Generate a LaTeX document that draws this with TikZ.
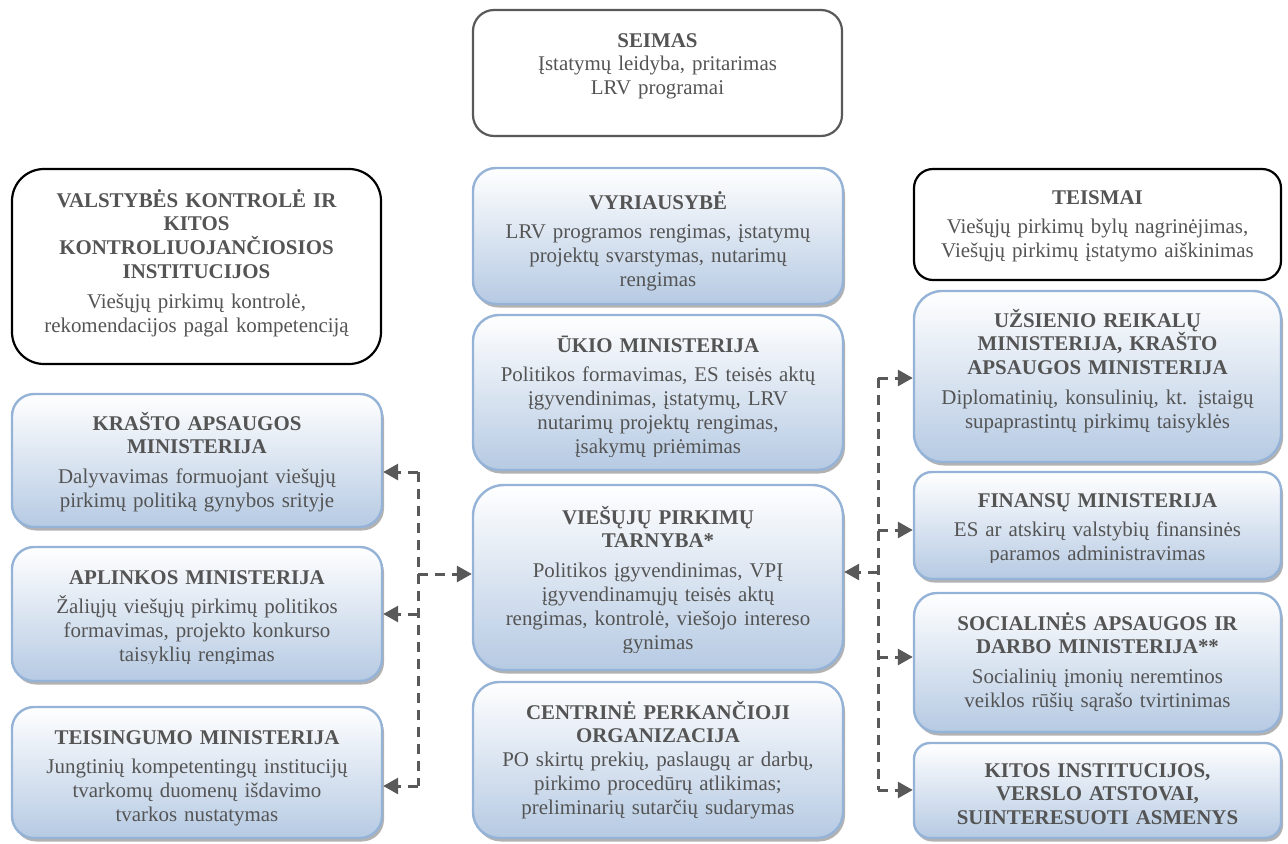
\documentclass[tikz,border=0pt]{standalone}
\usepackage{fontspec}
\setmainfont{Liberation Serif}
\usetikzlibrary{shadows,arrows.meta,calc}
\definecolor{txtgray}{RGB}{84,84,84}
\definecolor{bborder}{RGB}{149,179,215}
\definecolor{bbottom}{RGB}{182,202,227}
\definecolor{darkline}{RGB}{89,89,89}
\tikzset{
 bluebox/.style={draw=bborder, line width=2.4bp, top color=white, bottom color=bbottom,
   drop shadow={shadow xshift=2bp, shadow yshift=-3.5bp, fill=black!60, opacity=.5}, inner sep=0pt},
 plainbox/.style={draw=black, line width=2.2bp, fill=white, inner sep=0pt},
 txt/.style={text=txtgray, font=\fontsize{21}{24}\selectfont, align=center, inner sep=0pt, anchor=base, text width=364bp},
 conn/.style={draw=darkline, line width=3bp, dash pattern=on 10bp off 7bp, -{Triangle[length=15bp,width=16bp]}},
 trunk/.style={draw=darkline, line width=3bp, dash pattern=on 10bp off 7bp},
}
\begin{document}
\begin{tikzpicture}[x=1bp,y=-1bp]
\useasboundingbox (0,0) rectangle (1288,844);

% ---------- boxes ----------
\node[plainbox, draw=darkline, minimum width=369bp, minimum height=126bp, rounded corners=21bp] (seimas) at (657.5,73) {};
\node[plainbox, minimum width=369bp, minimum height=195bp, rounded corners=32bp] (valst) at (196.5,266.5) {};
\node[bluebox, minimum width=370bp, minimum height=133bp, rounded corners=22bp] (krasto) at (197,460.5) {};
\node[bluebox, minimum width=370bp, minimum height=134bp, rounded corners=22bp] (aplink) at (197,614) {};
\node[bluebox, minimum width=370bp, minimum height=131bp, rounded corners=22bp] (teis) at (197,772.5) {};
\node[bluebox, minimum width=370bp, minimum height=136bp, rounded corners=23bp] (vyr) at (658,236) {};
\node[bluebox, minimum width=370bp, minimum height=155bp, rounded corners=26bp] (ukio) at (658,392.5) {};
\node[bluebox, minimum width=370bp, minimum height=185bp, rounded corners=31bp] (vpt) at (658,577.5) {};
\node[bluebox, minimum width=370bp, minimum height=156bp, rounded corners=26bp] (cpo) at (658,760) {};
\node[plainbox, minimum width=367bp, minimum height=111bp, rounded corners=19bp] (teismai) at (1097.5,224.5) {};
\node[bluebox, minimum width=367bp, minimum height=171bp, rounded corners=28bp] (uzs) at (1097.5,376.5) {};
\node[bluebox, minimum width=367bp, minimum height=107bp, rounded corners=18bp] (fin) at (1097.5,525.5) {};
\node[bluebox, minimum width=367bp, minimum height=139bp, rounded corners=23bp] (soc) at (1097.5,662.5) {};
\node[bluebox, minimum width=367bp, minimum height=95bp, rounded corners=16bp] (kitos) at (1097.5,790.5) {};

% ---------- texts ----------
\node[txt] (seimasT) at (657.5,47) {{\bfseries SEIMAS}\\Įstatymų leidyba, pritarimas\\LRV programai};
\node[txt] (valstT) at (196.5,207) {{\bfseries VALSTYBĖS KONTROLĖ IR\\KITOS\\KONTROLIUOJANČIOSIOS\\INSTITUCIJOS}\\[6bp]Viešųjų pirkimų kontrolė,\\rekomendacijos pagal kompetenciją};
\node[txt] (krastoT) at (197,430) {{\bfseries KRAŠTO APSAUGOS\\MINISTERIJA}\\[6bp]Dalyvavimas formuojant viešųjų\\pirkimų politiką gynybos srityje};
\begin{scope}
\clip (aplink.north west) rectangle (aplink.east |- 0,663);
\node[txt] (aplinkT) at (197,584) {{\bfseries APLINKOS MINISTERIJA}\\[6bp]Žaliųjų viešųjų pirkimų politikos\\formavimas, projekto konkurso\\taisyklių rengimas};
\end{scope}
\node[txt] (teisT) at (197,744) {{\bfseries TEISINGUMO MINISTERIJA}\\[6bp]Jungtinių kompetentingų institucijų\\tvarkomų duomenų išdavimo\\tvarkos nustatymas};
\node[txt] (vyrT) at (658,209) {{\bfseries VYRIAUSYBĖ}\\[6bp]LRV programos rengimas, įstatymų\\projektų svarstymas, nutarimų\\rengimas};
\begin{scope}
\clip (ukio.north west) rectangle (ukio.east |- 0,456);
\node[txt] (ukioT) at (658,352) {{\bfseries ŪKIO MINISTERIJA}\\[6bp]Politikos formavimas, ES teisės aktų\\įgyvendinimas, įstatymų, LRV\\nutarimų projektų rengimas,\\įsakymų priėmimas};
\end{scope}
\begin{scope}
\clip (vpt.north west) rectangle (vpt.east |- 0,652);
\node[txt] (vptT) at (658,524) {{\bfseries VIEŠŲJŲ PIRKIMŲ\\TARNYBA*}\\[6bp]Politikos įgyvendinimas, VPĮ\\įgyvendinamųjų teisės aktų\\rengimas, kontrolė, viešojo intereso\\gynimas};
\end{scope}
\node[txt] (cpoT) at (658,719) {{\bfseries CENTRINĖ PERKANČIOJI\\ORGANIZACIJA}\\PO skirtų prekių, paslaugų ar darbų,\\pirkimo procedūrų atlikimas;\\preliminarių sutarčių sudarymas};
\node[txt] (teismaiT) at (1097.5,204) {{\bfseries TEISMAI}\\[6bp]Viešųjų pirkimų bylų nagrinėjimas,\\Viešųjų pirkimų įstatymo aiškinimas};
\node[txt] (uzsT) at (1097.5,327) {{\bfseries UŽSIENIO REIKALŲ\\MINISTERIJA, KRAŠTO\\APSAUGOS MINISTERIJA}\\[6bp]Diplomatinių, konsulinių, kt. įstaigų\\supaprastintų pirkimų taisyklės};
\begin{scope}
\clip (fin.north west) rectangle (fin.east |- 0,562);
\node[txt] (finT) at (1097.5,507) {{\bfseries FINANSŲ MINISTERIJA}\\[6bp]ES ar atskirų valstybių finansinės\\paramos administravimas};
\end{scope}
\node[txt] (socT) at (1097.5,630) {{\bfseries SOCIALINĖS APSAUGOS IR\\DARBO MINISTERIJA**}\\[6bp]Socialinių įmonių neremtinos\\veiklos rūšių sąrašo tvirtinimas};
\begin{scope}
\clip (kitos.north west) rectangle (kitos.east |- 0,825);
\node[txt] (kitosT) at (1097.5,777) {{\bfseries KITOS INSTITUCIJOS,\\VERSLO ATSTOVAI,\\SUINTERESUOTI ASMENYS}};
\end{scope}

% ---------- connectors ----------
\coordinate (LTop) at (418,472);
\coordinate (LMid) at (418,574);
\coordinate (LApl) at (418,614);
\coordinate (LBot) at (418,786);
\draw[trunk] (LTop) -- (LBot);
\draw[conn] (LTop) -- (LTop -| krasto.east);
\draw[conn] (LApl) -- (LApl -| aplink.east);
\draw[conn] (LBot) -- (LBot -| teis.east);
\draw[conn] (LMid) -- (LMid -| vpt.west);

\coordinate (RTop) at (878,378);
\coordinate (RFin) at (878,530);
\coordinate (RVpt) at (878,572);
\coordinate (RSoc) at (878,657);
\coordinate (RBot) at (878,790);
\draw[trunk] (RTop) -- (RBot);
\draw[conn] (RTop) -- (RTop -| uzs.west);
\draw[conn] (RFin) -- (RFin -| fin.west);
\draw[conn] (RSoc) -- (RSoc -| soc.west);
\draw[conn] (RBot) -- (RBot -| kitos.west);
\draw[conn] (RVpt) -- (RVpt -| vpt.east);
\end{tikzpicture}
\end{document}
